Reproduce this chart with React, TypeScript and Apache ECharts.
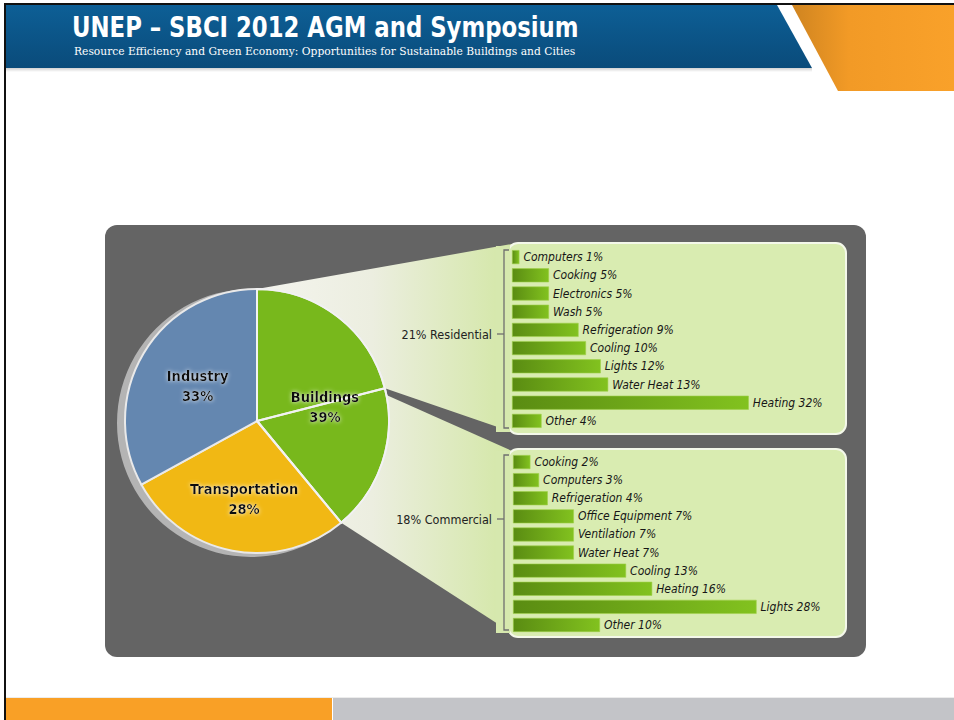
import React, { useEffect, useRef } from "react";
import * as echarts from "echarts";

const sectorNames = ["Buildings", "Transportation", "Industry"];
const sectorShares = [39, 28, 33];
const sectorColors = ["#78b81c", "#f1b814", "#6487b0"];
const buildingParts = ["Residential", "Commercial"];
const buildingShares = [21, 18];

const residentialUses = ["Computers", "Cooking", "Electronics", "Wash", "Refrigeration", "Cooling", "Lights", "Water Heat", "Heating", "Other"];
const residentialShares = [1, 5, 5, 5, 9, 10, 12, 13, 32, 4];
const commercialUses = ["Cooking", "Computers", "Refrigeration", "Office Equipment", "Ventilation", "Water Heat", "Cooling", "Heating", "Lights", "Other"];
const commercialShares = [2, 3, 4, 7, 7, 7, 13, 16, 28, 10];

const titleText = "UNEP – SBCI 2012 AGM and Symposium";
const subtitleText = "Resource Efficiency and Green Economy: Opportunities for Sustainable Buildings and Cities";

const COND = "'DejaVu Sans Condensed', 'Liberation Sans', sans-serif";

export default function App() {
  const ref = useRef<HTMLDivElement>(null);
  useEffect(() => {
    const chart = echarts.init(ref.current!, null, { renderer: "svg" });
    const cx = 257, cy = 421, R = 132;
    const total = sectorShares.reduce((a, b) => a + b, 0);
    const pt = (deg: number, r = R) => {
      const a = (deg * Math.PI) / 180;
      return [cx + r * Math.cos(a), cy - r * Math.sin(a)];
    };
    const aTop = 90;
    const aRes = 90 - (buildingShares[0] / total) * 360;
    const aCom = aRes - (buildingShares[1] / total) * 360;
    const wedgeFill = () =>
      new echarts.graphic.LinearGradient(0, 0, 1, 0, [
        { offset: 0, color: "#f4f4ee" },
        { offset: 0.45, color: "#eceee0" },
        { offset: 1, color: "#d3e7a6" },
      ]);
    const barColor = new echarts.graphic.LinearGradient(0, 0, 1, 0, [
      { offset: 0, color: "#5a8c12" },
      { offset: 1, color: "#82c21f" },
    ]);
    const barLabel = {
      show: true,
      position: "right",
      distance: 4,
      formatter: (p: any) => `${p.name} ${p.value}%`,
      fontStyle: "italic",
      fontFamily: COND,
      fontSize: 12,
      color: "#161616",
    };
    const spacerKey: any = { Buildings: "sb", Transportation: "st" };
    const pieLabel = {
      show: true,
      position: "inside",
      formatter: (p: any) => (spacerKey[p.name] ? `{${spacerKey[p.name]}|}\n` : "") + `{t|${p.name}}\n{t|${p.value}%}`,
      rich: {
        sb: { height: 19, lineHeight: 19 },
        st: { height: 20, lineHeight: 20 },
        t: {
          fontFamily: COND,
          fontWeight: "bold",
          fontSize: 14.5,
          lineHeight: 20,
          color: "#111",
          textShadowColor: "rgba(255,255,255,0.95)",
          textShadowBlur: 4,
        },
      },
    };
    chart.setOption({
      animation: false,
      graphic: [
        {
          type: "polygon", z: 1,
          shape: { points: [[6, 5], [777, 5], [812, 68], [6, 68]] },
          style: {
            fill: new echarts.graphic.LinearGradient(0, 0, 0, 1, [
              { offset: 0, color: "#0d5f96" },
              { offset: 1, color: "#0a4b7a" },
            ]),
          },
        },
        {
          type: "rect", z: 1, shape: { x: 6, y: 68, width: 806, height: 4 },
          style: {
            fill: new echarts.graphic.LinearGradient(0, 0, 0, 1, [
              { offset: 0, color: "rgba(0,0,0,0.18)" },
              { offset: 1, color: "rgba(0,0,0,0)" },
            ]),
          },
        },
        {
          type: "polygon", z: 1,
          shape: { points: [[792, 5], [954, 5], [954, 91], [838, 91]] },
          style: {
            fill: new echarts.graphic.LinearGradient(0, 0, 1, 0, [
              { offset: 0, color: "#cf8420" },
              { offset: 0.35, color: "#f29a26" },
              { offset: 1, color: "#f9a12a" },
            ]),
          },
        },
        { type: "line", z: 3, shape: { x1: 4, y1: 4, x2: 954, y2: 4 }, style: { stroke: "#111", lineWidth: 2 } },
        { type: "line", z: 3, shape: { x1: 5, y1: 4, x2: 5, y2: 720 }, style: { stroke: "#111", lineWidth: 2 } },
        {
          type: "text", z: 3, x: 72, y: 27, scaleX: 0.874,
          style: { text: titleText, fill: "#fff", font: `bold 29px ${COND}`, textVerticalAlign: "middle" },
        },
        {
          type: "text", z: 3, x: 74, y: 51,
          style: { text: subtitleText, fill: "#fff", font: "11.9px 'DejaVu Serif Condensed', 'DejaVu Serif', serif", textVerticalAlign: "middle" },
        },
        { type: "rect", z: 1, shape: { x: 6, y: 698, width: 326, height: 22 }, style: { fill: "#f9a026" } },
        { type: "rect", z: 1, shape: { x: 333, y: 698, width: 621, height: 22 }, style: { fill: "#c3c4c8" } },
        { type: "line", z: 1, shape: { x1: 6, y1: 697.5, x2: 954, y2: 697.5 }, style: { stroke: "#ececec", lineWidth: 1 } },
        { type: "rect", z: 0, shape: { x: 105, y: 225, width: 761, height: 432, r: 12 }, style: { fill: "#646464" } },
        {
          type: "polygon", z: 1,
          shape: { points: [pt(aTop), [512, 244], [512, 432], pt(aRes), [cx, cy]] },
          style: { fill: wedgeFill() },
        },
        {
          type: "polygon", z: 1,
          shape: { points: [pt(aRes - 3), [512, 451], [512, 633], pt(aCom), [cx, cy]] },
          style: { fill: wedgeFill() },
        },
        { type: "rect", z: 1, shape: { x: 508, y: 243, width: 338, height: 191, r: 10 }, style: { fill: "#d9ecb1", stroke: "#f4f8ea", lineWidth: 2 } },
        { type: "rect", z: 1, shape: { x: 508, y: 449, width: 338, height: 188, r: 10 }, style: { fill: "#d9ecb1", stroke: "#f4f8ea", lineWidth: 2 } },
        { type: "rect", z: 1, shape: { x: 496, y: 246, width: 14, height: 186 }, style: { fill: "#d6e8ae" } },
        { type: "rect", z: 1, shape: { x: 496, y: 451, width: 14, height: 182 }, style: { fill: "#d6e8ae" } },
        { type: "polyline", z: 2, shape: { points: [[509, 250], [504, 250], [504, 428], [509, 428]] }, style: { stroke: "#6f6f6f", lineWidth: 1.3, fill: "none" } },
        { type: "line", z: 2, shape: { x1: 497, y1: 334, x2: 504, y2: 334 }, style: { stroke: "#6f6f6f", lineWidth: 1.3 } },
        { type: "polyline", z: 2, shape: { points: [[509, 455], [504, 455], [504, 630], [509, 630]] }, style: { stroke: "#6f6f6f", lineWidth: 1.3, fill: "none" } },
        { type: "line", z: 2, shape: { x1: 497, y1: 519, x2: 504, y2: 519 }, style: { stroke: "#6f6f6f", lineWidth: 1.3 } },
        {
          type: "text", z: 3, x: 492, y: 334,
          style: { text: `${buildingShares[0]}% ${buildingParts[0]}`, fill: "#222", font: `12.5px ${COND}`, textAlign: "right", textVerticalAlign: "middle" },
        },
        {
          type: "text", z: 3, x: 492, y: 519,
          style: { text: `${buildingShares[1]}% ${buildingParts[1]}`, fill: "#222", font: `12.5px ${COND}`, textAlign: "right", textVerticalAlign: "middle" },
        },
      ],
      grid: [
        { left: 512, top: 248, width: 296, height: 182 },
        { left: 513, top: 453, width: 348, height: 181 },
      ],
      xAxis: [
        { type: "value", gridIndex: 0, min: 0, max: 40, show: false },
        { type: "value", gridIndex: 1, min: 0, max: 40, show: false },
      ],
      yAxis: [
        { type: "category", gridIndex: 0, inverse: true, data: residentialUses, show: false },
        { type: "category", gridIndex: 1, inverse: true, data: commercialUses, show: false },
      ],
      series: [
        {
          type: "pie", z: 2, silent: true, center: [251, 423], radius: 134,
          data: [{ value: 1, name: "" }], label: { show: false }, labelLine: { show: false },
          itemStyle: { color: "#b4b4b4" },
        },
        {
          type: "pie", z: 3, silent: true, center: [cx, cy], radius: R, startAngle: 90, clockwise: true,
          data: sectorNames.map((n, i) => ({ name: n, value: sectorShares[i], itemStyle: { color: sectorColors[i] } })),
          itemStyle: { borderColor: "#e9e9e9", borderWidth: 2 },
          label: { show: false }, labelLine: { show: false },
        },
        {
          type: "pie", z: 4, silent: true, center: [cx, cy], radius: R, startAngle: 90, clockwise: true,
          data: [
            ...buildingParts.map((n, i) => ({ name: n, value: buildingShares[i], itemStyle: { color: "rgba(0,0,0,0)", borderColor: "#f2f2f2", borderWidth: 2 } })),
            { name: "rest", value: total - buildingShares[0] - buildingShares[1], itemStyle: { color: "rgba(0,0,0,0)", borderWidth: 0 } },
          ],
          label: { show: false }, labelLine: { show: false },
        },
        {
          type: "pie", z: 5, silent: true, center: [cx, cy], radius: R, startAngle: 90, clockwise: true,
          data: sectorNames.map((n, i) => ({
            name: n, value: sectorShares[i],
            label: n === "Buildings" ? { padding: [0, 0, 0, 6] } : {},
          })),
          itemStyle: { color: "rgba(0,0,0,0)", borderWidth: 0 },
          label: pieLabel, labelLine: { show: false },
        },
        {
          type: "bar", xAxisIndex: 0, yAxisIndex: 0, z: 5, barWidth: 14,
          data: residentialShares,
          itemStyle: { color: barColor, borderColor: "#9fd04a", borderWidth: 0.6 },
          label: barLabel,
        },
        {
          type: "bar", xAxisIndex: 1, yAxisIndex: 1, z: 5, barWidth: 14,
          data: commercialShares,
          itemStyle: { color: barColor, borderColor: "#9fd04a", borderWidth: 0.6 },
          label: barLabel,
        },
      ],
    });
    return () => chart.dispose();
  }, []);
  return <div ref={ref} style={{ position: "fixed", left: 0, top: 0, width: 954, height: 720, background: "#fff" }} />;
}
